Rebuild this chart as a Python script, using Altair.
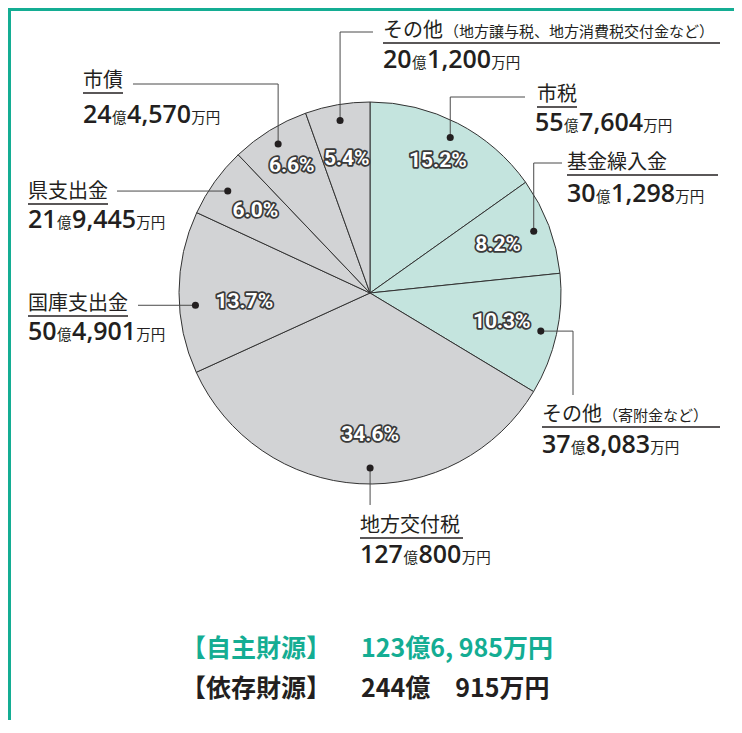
import math
import altair as alt
import pandas as pd

# ---------------- data ----------------
names = ["市税", "基金繰入金", "その他", "地方交付税", "国庫支出金", "県支出金", "市債", "その他"]
notes = ["", "", "（寄附金など）", "", "", "", "", "（地方譲与税、地方消費税交付金など）"]
amounts = [557604, 301298, 378083, 1270800, 504901, 219445, 244570, 201200]  # 万円
percents = ["15.2%", "8.2%", "10.3%", "34.6%", "13.7%", "6.0%", "6.6%", "5.4%"]
groups = ["自主財源", "自主財源", "自主財源", "依存財源", "依存財源", "依存財源", "依存財源", "依存財源"]
summary_labels = ["【自主財源】", "【依存財源】"]
summary_values = ["123億6, 985万円", "244億　915万円"]

# ---------------- layout (page pixels) ----------------
W, H = 726, 712
OX, OY = 8, 8
CX, CY, R = 370, 293, 191
R_DOT = 175
pct_r = [148, 137, 135, 142, 126, 141, 149, 136]
angle_shift = {3: -3.3, 4: -4.2}
name_pos = [(537, 101), (567, 169), (542, 421), (360, 532), (28, 310), (28, 198), (83, 87), (383, 37)]
value_pos = [(535, 131), (567, 202), (542, 453), (360, 563), (28, 340), (28, 228), (83, 123), (383, 68)]
underline = [(537, 577, 107), (567, 718, 175), (542, 720, 427), (360, 463, 538),
             (28, 128, 316), (28, 108, 204), (83, 123, 93), (383, 720, 43)]
leaders = [("vh", 97, 525), ("vh", 163, 562), ("hv", 573, 395), ("v", 505),
           ("h", 138), ("h", 117), ("vh", 84, 133), ("vh", 32, 373)]
NAME_FS, NOTE_FS, DIG_FS, UNIT_FS = 20, 15, 25, 14.5
DIG_W, COMMA_W = 0.572 * DIG_FS, 0.26 * DIG_FS
GREEN = "#14ad93"
INK = "#231f20"
COLORS = {"自主財源": "#c4e4de", "依存財源": "#d2d3d5"}

# ---------------- derived tables ----------------
total = sum(amounts)
base = pd.DataFrame({"idx": range(len(amounts)), "amount": amounts, "group": groups, "pct": percents})

dots, pcts = [], []
cum = 0
for i, a in enumerate(amounts):
    mid = math.radians((cum + a / 2) / total * 360 + angle_shift.get(i, 0))
    cum += a
    dots.append((CX + R_DOT * math.sin(mid), CY - R_DOT * math.cos(mid)))
    pcts.append((CX + pct_r[i] * math.sin(mid), CY - pct_r[i] * math.cos(mid), percents[i]))
dot_df = pd.DataFrame(dots, columns=["x", "y"])
pct_df = pd.DataFrame(pcts, columns=["x", "y", "t"])

segs = []
for (dx, dy), ld in zip(dots, leaders):
    kind = ld[0]
    if kind == "vh":
        segs += [(dx, dy, dx, ld[1]), (dx, ld[1], ld[2], ld[1])]
    elif kind == "hv":
        segs += [(dx, dy, ld[1], dy), (ld[1], dy, ld[1], ld[2])]
    elif kind == "v":
        segs += [(dx, dy, dx, ld[1])]
    else:
        segs += [(dx, dy, ld[1], dy)]
seg_df = pd.DataFrame(segs, columns=["x", "y", "x2", "y2"])
ul_df = pd.DataFrame([(a, y, b, y) for a, b, y in underline], columns=["x", "y", "x2", "y2"])

name_rows = []
for (nx, ny), n, note in zip(name_pos, names, notes):
    name_rows.append((nx, ny, n, NAME_FS))
    if note:
        name_rows.append((nx + len(n) * NAME_FS + 1, ny, note, NOTE_FS))
name_df = pd.DataFrame(name_rows, columns=["x", "y", "t", "fs"])

dig_rows, unit_rows = [], []
for (vx, vy), a in zip(value_pos, amounts):
    oku, man = divmod(a, 10000)
    x = vx
    for txt, kind in [(str(oku), "d"), ("億", "c"), (f"{man:,}", "d"), ("万円", "c")]:
        if kind == "d":
            dig_rows.append((x, vy, txt))
            x += sum(DIG_W if ch.isdigit() else COMMA_W for ch in txt)
        else:
            unit_rows.append((x + 0.5, vy, txt))
            x += len(txt) * UNIT_FS + 1
dig_df = pd.DataFrame(dig_rows, columns=["x", "y", "t"])
unit_df = pd.DataFrame(unit_rows, columns=["x", "y", "t"])

sum_df = pd.DataFrame({
    "x": [181, 361, 181, 361], "y": [657, 657, 697, 697],
    "t": [summary_labels[0], summary_values[0], summary_labels[1], summary_values[1]],
    "c": [GREEN, GREEN, INK, INK],
})


def X(f):
    return alt.X(f, type="quantitative", scale=alt.Scale(domain=[OX, OX + W], range=[0, W]), axis=None)


def Y(f):
    return alt.Y(f, type="quantitative", scale=alt.Scale(domain=[OY, OY + H], range=[0, H]), axis=None)


frame_left = alt.Chart(base).mark_rule(color=GREEN, strokeWidth=4).encode(
    x=alt.value(1), y=alt.value(0), y2=alt.value(H))
frame_top = alt.Chart(base).mark_rule(color=GREEN, strokeWidth=4).encode(
    y=alt.value(1), x=alt.value(0), x2=alt.value(W))

pie = alt.Chart(base).mark_arc(outerRadius=R, stroke="#333333", strokeWidth=1).encode(
    theta=alt.Theta("amount:Q", stack=True),
    order=alt.Order("idx:Q", sort="ascending"),
    color=alt.Color("group:N", scale=alt.Scale(domain=list(COLORS), range=list(COLORS.values())), legend=None),
    x=alt.value(CX - OX), y=alt.value(CY - OY),
)

pct_font = dict(font="Roboto", fontSize=21, fontWeight="bold", align="center", baseline="middle")
pct_outline = alt.Chart(pct_df).mark_text(color="#3a3a3a", stroke="#3a3a3a", strokeWidth=3.5,
                                          strokeJoin="round", **pct_font).encode(x=X("x"), y=Y("y"), text="t:N")
pct_fill = alt.Chart(pct_df).mark_text(color="white", **pct_font).encode(x=X("x"), y=Y("y"), text="t:N")

leader = alt.Chart(seg_df).mark_rule(color="#4a4a4a", strokeWidth=1).encode(
    x=X("x"), y=Y("y"), x2="x2:Q", y2="y2:Q")
dot = alt.Chart(dot_df).mark_circle(color=INK, opacity=1, size=50).encode(x=X("x"), y=Y("y"))
ul = alt.Chart(ul_df).mark_rule(color=INK, strokeWidth=1.5).encode(
    x=X("x"), y=Y("y"), x2="x2:Q", y2="y2:Q")

name_txt = alt.Chart(name_df).mark_text(font="Noto Sans CJK JP", color=INK, align="left",
                                        baseline="alphabetic").encode(
    x=X("x"), y=Y("y"), text="t:N", size=alt.Size("fs:Q", scale=None))
dig_txt = alt.Chart(dig_df).mark_text(font="Open Sans", fontSize=DIG_FS, fontWeight=600, color=INK, align="left",
                                      baseline="alphabetic").encode(x=X("x"), y=Y("y"), text="t:N")
unit_txt = alt.Chart(unit_df).mark_text(font="Noto Sans CJK JP", fontSize=UNIT_FS, color=INK, align="left",
                                        baseline="alphabetic").encode(x=X("x"), y=Y("y"), text="t:N")
sum_txt = alt.Chart(sum_df).mark_text(font="Noto Sans CJK JP", fontSize=25, fontWeight="bold", align="left",
                                      baseline="alphabetic").encode(
    x=X("x"), y=Y("y"), text="t:N", color=alt.Color("c:N", scale=None))

chart = alt.layer(
    frame_left, frame_top, pie, leader, dot, pct_outline, pct_fill, ul, name_txt, dig_txt, unit_txt, sum_txt
).properties(
    width=W, height=H, padding=0, autosize=alt.AutoSizeParams(type="none")
).configure_view(stroke=None)

chart.save("out.html", embed_options={"renderer": "svg", "actions": False})
